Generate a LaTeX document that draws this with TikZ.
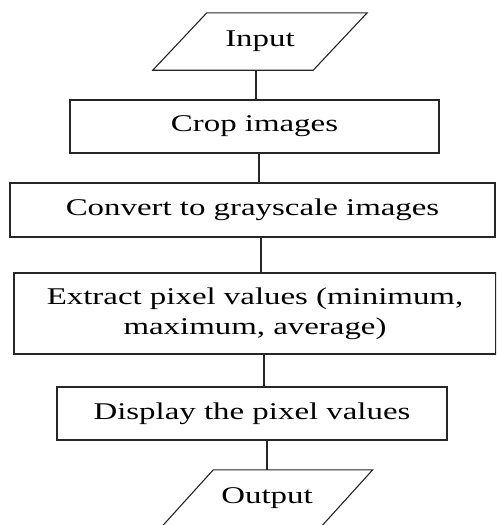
\documentclass[tikz,border=0pt]{standalone}
\usepackage{fontspec}
\setmainfont{Liberation Serif}[FakeStretch=1.37]
\begin{document}
\begin{tikzpicture}[x=1pt,y=-1pt,
  txt/.style={font=\fontsize{24pt}{30pt}\selectfont, text=black, inner sep=0pt},
  box/.style={txt, draw=black!85, line width=1.1pt, rectangle, align=center},
  conn/.style={draw=black!85, line width=1.1pt}]
\useasboundingbox (0,0) rectangle (496,525);
\clip (0,0) rectangle (496,525);
% input / output texts
\node[txt, minimum width=160pt, minimum height=57pt] (inp) at (260,41.5) {Input};
\draw[conn] ([xshift=-27pt]inp.south west) -- ([xshift=27pt]inp.north west) -- ([xshift=27pt]inp.north east) -- ([xshift=-27pt]inp.south east) -- cycle;
\node[box, minimum width=369pt, minimum height=53pt] (crop) at (254.5,126.5) {Crop images};
\node[box, minimum width=485pt, minimum height=54pt] (conv) at (252.5,210) {Convert to grayscale images};
\node[box, minimum width=482pt, minimum height=81pt] (extr) at (255,313.5) {Extract pixel values (minimum,\\maximum, average)};
\node[box, minimum width=390pt, minimum height=53pt] (disp) at (252,413.5) {Display the pixel values};
\node[txt, minimum width=159pt, minimum height=57pt] (outp) at (267,498.5) {Output};
\draw[conn] ([xshift=-26pt]outp.south west) -- ([xshift=26pt]outp.north west) -- ([xshift=26pt]outp.north east) -- ([xshift=-26pt]outp.south east) -- cycle;
% connector x positions
\coordinate (c1) at (256,0);
\coordinate (c2) at (259,0);
\coordinate (c3) at (261,0);
\coordinate (c4) at (264,0);
\coordinate (c5) at (267,0);
\draw[conn] (inp.south -| c1) -- (crop.north -| c1);
\draw[conn] (crop.south -| c2) -- (conv.north -| c2);
\draw[conn] (conv.south -| c3) -- (extr.north -| c3);
\draw[conn] (extr.south -| c4) -- (disp.north -| c4);
\draw[conn] (disp.south -| c5) -- (outp.north -| c5);
\end{tikzpicture}
\end{document}
